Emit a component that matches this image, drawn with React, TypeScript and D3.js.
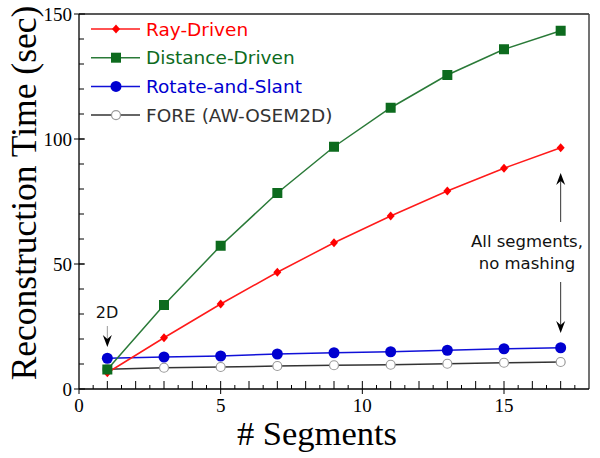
import React from "react";
import * as d3 from "d3";

const segments = [1, 3, 5, 7, 9, 11, 13, 15, 17];
const rayDriven = [6.5, 20.5, 34, 46.7, 58.5, 69.2, 79.2, 88.3, 96.5];
const distanceDriven = [7.8, 33.6, 57.3, 78.4, 96.9, 112.5, 125.6, 135.9, 143.3];
const rotateSlant = [12.3, 12.8, 13.2, 14.0, 14.5, 14.9, 15.5, 16.1, 16.5];
const foreOsem = [7.9, 8.5, 8.8, 9.2, 9.5, 9.7, 10.1, 10.5, 10.8];
const seriesNames = ["Ray-Driven", "Distance-Driven", "Rotate-and-Slant", "FORE (AW-OSEM2D)"];
const xTicks = [0, 5, 10, 15];
const yTicks = [0, 50, 100, 150];

const W = 600, H = 458;
const L = 79, R = 589, T = 14, B = 389;

export default function App() {
  const x = d3.scaleLinear().domain([0, 18]).range([L, R]);
  const y = d3.scaleLinear().domain([0, 150]).range([B, T]);
  const line = d3.line<number>().x((_, i) => x(segments[i])).y((d) => y(d));

  const series = [
    { name: seriesNames[3], data: foreOsem, line: "#333", marker: "circleOpen", color: "#333" },
    { name: seriesNames[2], data: rotateSlant, line: "#1010d8", marker: "circle", color: "#0000d0" },
    { name: seriesNames[0], data: rayDriven, line: "#ff1a1a", marker: "diamond", color: "#ff0000" },
    { name: seriesNames[1], data: distanceDriven, line: "#2a7a38", marker: "square", color: "#0d6b1e" },
  ];

  const marker = (type: string, cx: number, cy: number, color: string, key: any) => {
    if (type === "diamond")
      return <path key={key} d={`M${cx},${cy - 4.5}L${cx + 4},${cy}L${cx},${cy + 4.5}L${cx - 4},${cy}Z`} fill={color} />;
    if (type === "square")
      return <rect key={key} x={cx - 5} y={cy - 5} width={10} height={10} fill={color} />;
    if (type === "circle")
      return <circle key={key} cx={cx} cy={cy} r={5.5} fill={color} />;
    return <circle key={key} cx={cx} cy={cy} r={4.5} fill="white" stroke="#999" strokeWidth={1.2} />;
  };

  const legendOrder = [series[2], series[3], series[1], series[0]];

  const halfTicks = d3.range(0.5, 18, 0.5);
  const minorY = d3.range(10, 150, 10);

  const arrowDown = (ax: number, tipY: number) =>
    `M${ax},${tipY}L${ax - 4.5},${tipY - 12}L${ax},${tipY - 8}L${ax + 4.5},${tipY - 12}Z`;
  const arrowUp = (ax: number, tipY: number) =>
    `M${ax},${tipY}L${ax - 4.5},${tipY + 12}L${ax},${tipY + 8}L${ax + 4.5},${tipY + 12}Z`;

  return (
    <svg width={W} height={H} style={{ position: "absolute", left: 0, top: 0, background: "white" }}>
      <rect x={0} y={0} width={W} height={H} fill="white" />
      {/* frame */}
      <line x1={L} y1={T} x2={R} y2={T} stroke="#222" strokeWidth={1.3} />
      <line x1={R} y1={T} x2={R} y2={B} stroke="#444" strokeWidth={1.5} />
      <line x1={L} y1={T} x2={L} y2={B} stroke="#000" strokeWidth={1.3} />
      <line x1={L} y1={B} x2={R} y2={B} stroke="#000" strokeWidth={1.3} />
      {/* x ticks */}
      {halfTicks.map((t) => {
        const isInt = Number.isInteger(t);
        const len = isInt ? 8 : 4;
        return <line key={"xt" + t} x1={x(t)} x2={x(t)} y1={B} y2={B - len} stroke="#000" strokeWidth={1} />;
      })}
      {xTicks.map((t) => (
        <g key={"xl" + t}>
          <line x1={x(t)} x2={x(t)} y1={B} y2={B + 5} stroke="#000" strokeWidth={1} />
          <text x={x(t)} y={412} textAnchor="middle" fontFamily="'Liberation Serif', serif" fontSize={19} fill="#000">{t}</text>
        </g>
      ))}
      {/* y ticks */}
      {minorY.map((t) => (
        <line key={"ym" + t} x1={L} x2={L + 5} y1={y(t)} y2={y(t)} stroke="#000" strokeWidth={1} />
      ))}
      {yTicks.map((t) => (
        <g key={"yl" + t}>
          <line x1={L - 5} x2={L + 6} y1={y(t)} y2={y(t)} stroke="#000" strokeWidth={1} />
          <text x={72} y={y(t) + 6.5} textAnchor="end" fontFamily="'Liberation Serif', serif" fontSize={19} fill="#000">{t}</text>
        </g>
      ))}
      {/* axis titles */}
      <text transform={`translate(35.5,193) rotate(-90)`} textAnchor="middle" fontFamily="'Liberation Serif', serif" fontSize={35.5} fill="#000">Reconstruction Time (sec)</text>
      <text x={317} y={445} textAnchor="middle" fontFamily="'Liberation Serif', serif" fontSize={34.5} fill="#000"># Segments</text>
      {/* series */}
      {series.map((s) => (
        <g key={s.name}>
          <path d={line(s.data) || ""} fill="none" stroke={s.line} strokeWidth={1.5} />
          {s.data.map((v, i) => marker(s.marker, x(segments[i]), y(v), s.color, i))}
        </g>
      ))}
      {/* legend */}
      {legendOrder.map((s, i) => {
        const ly = 29 + i * 28.7;
        return (
          <g key={"lg" + i}>
            <line x1={91} x2={140} y1={ly} y2={ly} stroke={s.line} strokeWidth={1.5} />
            {marker(s.marker, 116, ly, s.color, "m")}
            <text x={146} y={ly + 6.5} fontFamily="'DejaVu Sans', sans-serif" fontSize={18.5} fill={s.marker === "circleOpen" ? "#333" : s.color}>{s.name}</text>
          </g>
        );
      })}
      {/* annotations */}
      <text x={107} y={318} textAnchor="middle" fontFamily="'DejaVu Sans', sans-serif" fontSize={16} fill="#111">2D</text>
      <line x1={x(1)} x2={x(1)} y1={326} y2={340} stroke="#999" strokeWidth={1} />
      <path d={arrowDown(x(1), 347)} fill="#000" />
      <text x={527} y={247} textAnchor="middle" fontFamily="'DejaVu Sans', sans-serif" fontSize={16.5} fill="#111">All segments,</text>
      <text x={527} y={269} textAnchor="middle" fontFamily="'DejaVu Sans', sans-serif" fontSize={16.5} fill="#111">no mashing</text>
      <line x1={x(17)} x2={x(17)} y1={180} y2={222} stroke="#333" strokeWidth={1} />
      <path d={arrowUp(x(17), 173)} fill="#000" />
      <line x1={x(17)} x2={x(17)} y1={282} y2={326} stroke="#333" strokeWidth={1} />
      <path d={arrowDown(x(17), 333)} fill="#000" />
    </svg>
  );
}
